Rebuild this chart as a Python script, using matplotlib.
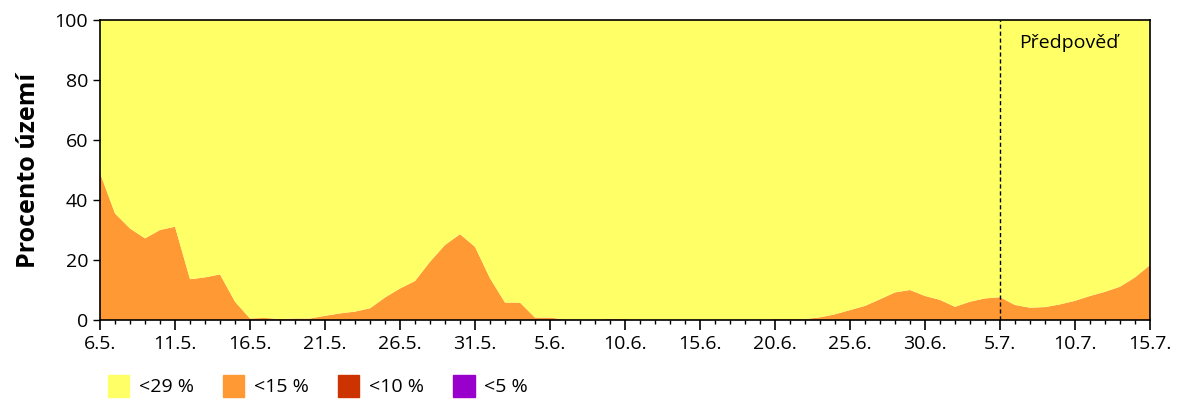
import matplotlib.pyplot as plt
from matplotlib.patches import Patch
from matplotlib.ticker import MultipleLocator

plt.rcParams['font.family'] = ['Open Sans', 'DejaVu Sans']

# den od 6.5.
days = list(range(71))
below15 = [49, 35.5, 30.5, 27.2, 30, 31.1, 13.6, 14.2, 15.2, 6.1,
           0.5, 0.7, 0.3, 0.5, 0.5, 1.4, 2.2, 2.8, 3.9, 7.5,
           10.5, 13, 19.4, 25, 28.6, 24.4, 13.9, 5.8, 5.8, 0.8,
           0.8, 0.2, 0.1, 0.1, 0.4, 0.3, 0, 0, 0, 0,
           0, 0, 0, 0, 0, 0.3, 0.3, 0.3, 0.9, 1.9,
           3.3, 4.7, 6.9, 9.2, 10, 8, 6.7, 4.4, 6.1, 7.2,
           7.6, 5, 4.1, 4.3, 5.2, 6.4, 8, 9.4, 11.1, 14.2,
           18.3]
below10 = [0] * 71
below5 = [0] * 71
below29 = [100 - a - b - c for a, b, c in zip(below15, below10, below5)]

tick_labels = ['6.5.', '11.5.', '16.5.', '21.5.', '26.5.', '31.5.', '5.6.', '10.6.',
               '15.6.', '20.6.', '25.6.', '30.6.', '5.7.', '10.7.', '15.7.']
forecast_day = 60

colors = ['#9900CC', '#CC3300', '#FF9933', '#FFFF66']
names = ['<5 %', '<10 %', '<15 %', '<29 %']

fig = plt.figure(figsize=(12, 4), dpi=100)
ax = fig.add_axes([100/1200, 0.2, 1050/1200, 0.75])
ax.stackplot(days, below5, below10, below15, below29, colors=colors, linewidth=0)
ax.set_xlim(0, 70)
ax.set_ylim(0, 100)
ax.set_xticks(range(0, 71, 5))
ax.set_xticklabels(tick_labels, fontsize=14)
ax.xaxis.set_minor_locator(MultipleLocator(1))
ax.set_yticks(range(0, 101, 20))
ax.tick_params(axis='y', labelsize=14, direction='out', length=5, width=1)
ax.tick_params(axis='x', which='major', direction='out', length=7, width=1.2, pad=4)
ax.tick_params(axis='x', which='minor', direction='out', length=3, width=1)
ax.set_ylabel('Procento území', fontsize=18, fontweight='bold', labelpad=10)
for s in ax.spines.values():
    s.set_linewidth(1.2)

ax.axvline(forecast_day, color='black', linestyle=(0, (3, 2)), linewidth=1)
ax.text(forecast_day + 1.3, 92.5, 'Předpověď', fontsize=14, va='center', ha='left')

handles = [Patch(color=c) for c in colors[::-1]]
fig.legend(handles, names[::-1], loc='lower left', bbox_to_anchor=(0.075, -0.035),
           ncol=4, frameon=False, fontsize=14, handlelength=1.1, handleheight=1.3,
           handletextpad=0.5, columnspacing=1.5)

plt.savefig('out.png')
